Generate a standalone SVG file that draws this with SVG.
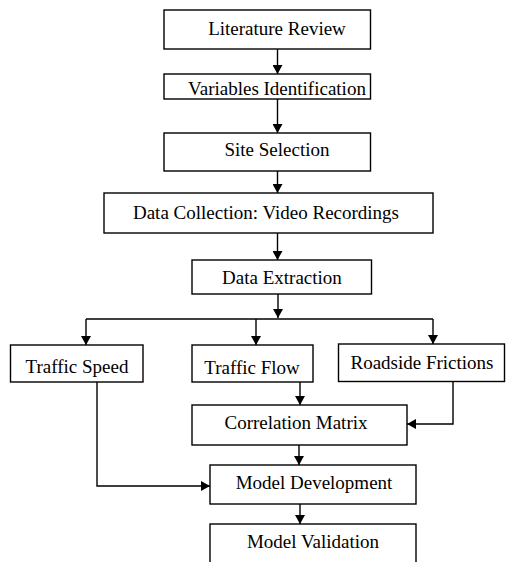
<svg xmlns="http://www.w3.org/2000/svg" width="506" height="562" viewBox="0 0 506 562">
<style>
rect{fill:#fff;stroke:#000;stroke-width:1.4}
text{font-family:"Liberation Serif","Times New Roman",serif;font-size:19px;fill:#000;text-anchor:middle}
.c path{fill:none;stroke:#000;stroke-width:1.4}
</style>
<defs>
<marker id="ah" markerWidth="9" markerHeight="10" refX="9" refY="5" orient="auto" markerUnits="userSpaceOnUse">
<path d="M0,0 L9,5 L0,10 Z" fill="#000"/>
</marker>
</defs>
<rect x="0" y="0" width="506" height="562" style="stroke:none"/>
<g id="n1"><rect x="164" y="10" width="206.5" height="39"/><text x="277" y="34.5">Literature Review</text></g>
<g id="n2"><rect x="164" y="74" width="206.5" height="25"/><text x="277" y="95">Variables Identification</text></g>
<g id="n3"><rect x="164" y="133" width="206.5" height="38"/><text x="277" y="156">Site Selection</text></g>
<g id="n4"><rect x="104" y="193" width="329" height="40"/><text x="266" y="219">Data Collection: Video Recordings</text></g>
<g id="n5"><rect x="192" y="260" width="179.5" height="34"/><text x="282" y="283.5">Data Extraction</text></g>
<g id="n6"><rect x="10.5" y="345" width="132.5" height="37"/><text x="77" y="372.5">Traffic Speed</text></g>
<g id="n7"><rect x="192" y="345" width="121" height="37"/><text x="252" y="374">Traffic Flow</text></g>
<g id="n8"><rect x="338.5" y="344" width="166" height="37.5"/><text x="422" y="368.5">Roadside Frictions</text></g>
<g id="n9"><rect x="192" y="405" width="215" height="40"/><text x="296" y="429">Correlation Matrix</text></g>
<g id="n10"><rect x="210" y="465" width="206" height="39"/><text x="314" y="489">Model Development</text></g>
<g id="n11"><rect x="210" y="524" width="206" height="50"/><text x="313" y="548">Model Validation</text></g>
<g class="c" id="connectors">
<path d="M277.5,49 V74" marker-end="url(#ah)"/>
<path d="M277.5,99 V133" marker-end="url(#ah)"/>
<path d="M277.5,171 V193" marker-end="url(#ah)"/>
<path d="M277.5,233 V260" marker-end="url(#ah)"/>
<path d="M278,294 V318" marker-end="url(#ah)"/>
<path d="M86,319 H433"/>
<path d="M86,319 V345" marker-end="url(#ah)"/>
<path d="M256,319 V345" marker-end="url(#ah)"/>
<path d="M433,319 V344" marker-end="url(#ah)"/>
<path d="M300,382 V405" marker-end="url(#ah)"/>
<path d="M453,381.5 V424 H407" marker-end="url(#ah)"/>
<path d="M299,445 V465" marker-end="url(#ah)"/>
<path d="M97,382 V486 H210" marker-end="url(#ah)"/>
<path d="M300,504 V524" marker-end="url(#ah)"/>
</g>
</svg>
